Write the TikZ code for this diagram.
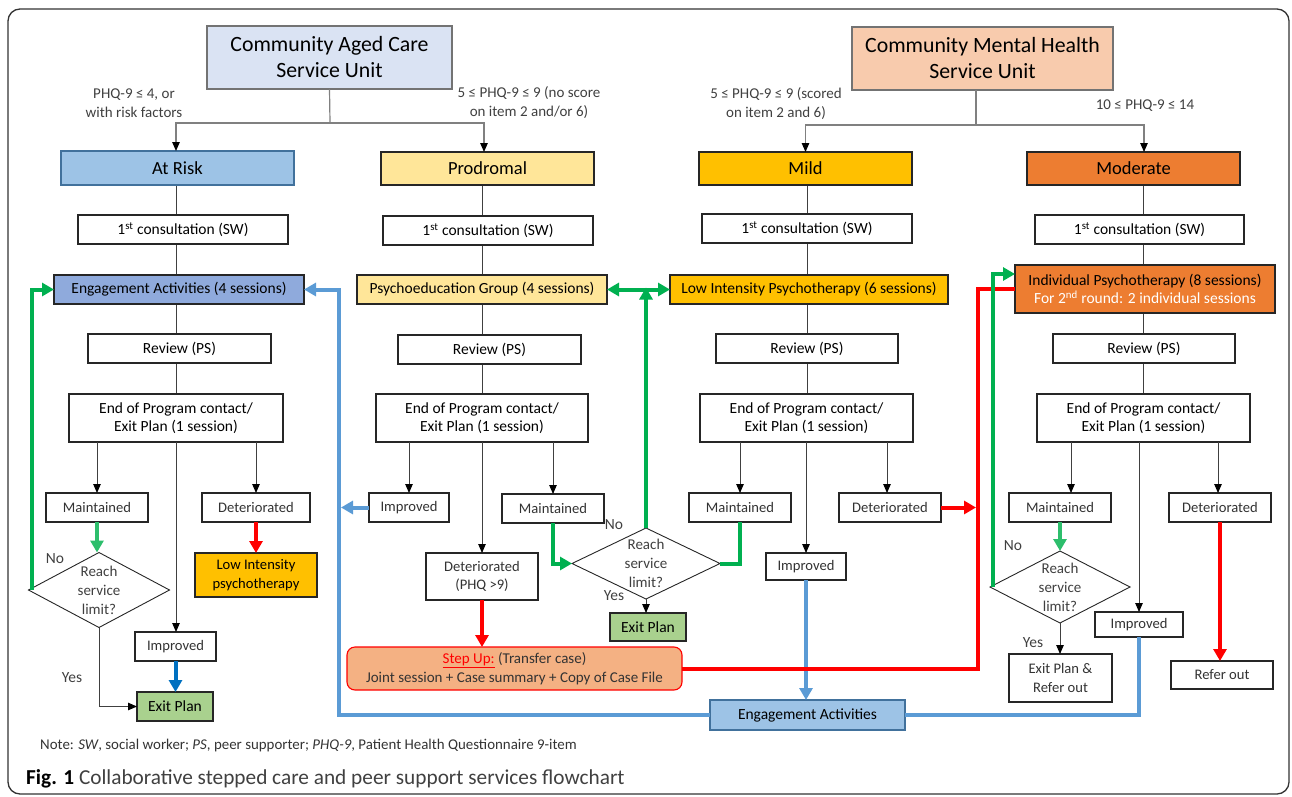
\documentclass[tikz,border=0pt]{standalone}
\usepackage{fontspec}
\setmainfont{Carlito}
\usetikzlibrary{shapes.geometric,arrows.meta,backgrounds}
\definecolor{cHdrA}{HTML}{DAE3F3}
\definecolor{cHdrB}{HTML}{F8CBAD}
\definecolor{cAtRisk}{HTML}{9DC3E6}
\definecolor{cAtRiskB}{HTML}{41719C}
\definecolor{cEngA}{HTML}{8FAADC}
\definecolor{cYel}{HTML}{FFE699}
\definecolor{cOr}{HTML}{FFC000}
\definecolor{cOrD}{HTML}{ED7D31}
\definecolor{cGreenBox}{HTML}{A9D18E}
\definecolor{cStep}{HTML}{F4B183}
\definecolor{cBlue}{HTML}{5B9BD5}
\definecolor{cDBlue}{HTML}{0070C0}
\definecolor{cGreen}{HTML}{00B050}
\definecolor{cGreenL}{HTML}{2DBE6C}
\definecolor{cRed}{HTML}{FF0000}
\newcommand\fsH{\fontsize{21.8}{26}\selectfont}
\newcommand\fsC{\fontsize{18.5}{22}\selectfont}
\newcommand\fsM{\fontsize{15.5}{18.5}\selectfont}
\newcommand\fsL{\fontsize{14.6}{18.5}\selectfont}
\newcommand\fsS{\fontsize{15}{19}\selectfont}
\newcommand\fsY{\fontsize{15.5}{19}\selectfont}
\newcommand\fsN{\fontsize{14.9}{17}\selectfont}
\newcommand\fsF{\fontsize{21.3}{25}\selectfont}
\begin{document}
\begin{tikzpicture}[x=1pt,y=-1pt,
 box/.style={draw=black!85,line width=1.1pt,fill=white,inner sep=0pt,outer sep=0pt,align=center,font=\fsM},
 lbox/.style={box,font=\fsL,text=black!80},
 cat/.style={box,font=\fsC},
 hdr/.style={box,draw=black!55,line width=1.4pt,font=\fsH},
 wh/.style 2 args={minimum width=#1,minimum height=#2},
 dia/.style={diamond,draw=black!85,line width=0.9pt,fill=white,inner sep=0pt,outer sep=0pt,aspect=1.9,align=center,font=\fsS,text=black!75},
 lab/.style={font=\fsS,text=black!75,align=center,inner sep=0pt},
 vline/.style={draw=black!75,line width=1pt},
 hline/.style={draw=black!50,line width=1.2pt},
 ktip/.style={-{Triangle[length=9pt,width=7.5pt,color=black]}},
 gl/.style={draw=cGreen,line width=4pt},
 gll/.style={draw=cGreenL,line width=4pt},
 rl/.style={draw=cRed,line width=4pt},
 bl/.style={draw=cBlue,line width=4pt},
 dbl/.style={draw=cDBlue,line width=4pt},
 btip/.style={-{Triangle[length=12pt,width=13pt]}},
]
\useasboundingbox (0,0) rectangle (1292,797);
\draw[black!80,line width=1.3pt,rounded corners=12] (8,9) rectangle (1289,794);

% headers
\node[hdr,fill=cHdrA,wh={245}{63}] (hdrA) at (329.5,57.5) {Community Aged Care\\Service Unit};
\node[hdr,fill=cHdrB,wh={261}{63}] (hdrB) at (982.5,58.5) {Community Mental Health\\Service Unit};
\node[lab] (labA) at (134,103) {PHQ-9 ≤ 4, or\\with risk factors};
\node[lab] (labB) at (529,103) {5 ≤ PHQ-9 ≤ 9 (no score\\on item 2 and/or 6)};
\node[lab] (labC) at (776,104) {5 ≤ PHQ-9 ≤ 9 (scored\\on item 2 and 6)};
\node[lab] (labD) at (1145,106) {10 ≤ PHQ-9 ≤ 14};

% categories
\node[cat,fill=cAtRisk,draw=cAtRiskB,wh={233}{34}] (atrisk) at (177.5,168) {At Risk};
\node[cat,fill=cYel,wh={213}{33}] (prod) at (487.5,168.5) {Prodromal};
\node[cat,fill=cOr,wh={213}{33}] (mild) at (805.5,168.5) {Mild};
\node[cat,fill=cOrD,wh={213}{33}] (mod) at (1133.5,168.5) {Moderate};

% first consultation
\node[box,wh={210}{29}] (c1A) at (183,229.5) {1\textsuperscript{st} consultation (SW)};
\node[box,wh={210}{29}] (c1B) at (488,230.5) {1\textsuperscript{st} consultation (SW)};
\node[box,wh={210}{29}] (c1C) at (807,228.5) {1\textsuperscript{st} consultation (SW)};
\node[box,wh={209}{29}] (c1D) at (1139.5,229.5) {1\textsuperscript{st} consultation (SW)};

% programmes
\node[box,fill=cEngA,wh={250}{29}] (engA) at (179,289.5) {Engagement Activities (4 sessions)};
\node[box,fill=cYel,wh={250}{29}] (psyB) at (482,289.5) {Psychoeducation Group (4 sessions)};
\node[box,fill=cOr,wh={278}{29}] (lipC) at (809,289.5) {Low Intensity Psychotherapy (6 sessions)};
\node[box,fill=cOrD,wh={260}{48}] (ipD) at (1145,289) {Individual Psychotherapy (8 sessions)\\\textcolor{white}{For 2\textsuperscript{nd} round: 2 individual sessions}};

% reviews
\node[box,wh={183}{29}] (revA) at (179.5,348.5) {Review (PS)};
\node[box,wh={183}{29}] (revB) at (489.5,349.5) {Review (PS)};
\node[box,wh={182}{29}] (revC) at (807,348.5) {Review (PS)};
\node[box,wh={182}{29}] (revD) at (1144,348.5) {Review (PS)};

% end of program
\node[box,wh={214}{48}] (endA) at (176,418) {End of Program contact/\\Exit Plan (1 session)};
\node[box,wh={212}{48}] (endB) at (482,418) {End of Program contact/\\Exit Plan (1 session)};
\node[box,wh={213}{48}] (endC) at (806.5,418) {End of Program contact/\\Exit Plan (1 session)};
\node[box,wh={213}{48}] (endD) at (1143.5,418) {End of Program contact/\\Exit Plan (1 session)};

% outcomes
\node[lbox,wh={102}{29}] (mainA) at (97,507.5) {Maintained};
\node[lbox,wh={108}{29}] (detA) at (256,507.5) {Deteriorated};
\node[lbox,wh={80}{29}] (impB) at (409,507.5) {Improved};
\node[lbox,wh={102}{29}] (mainB) at (553,508.5) {Maintained};
\node[lbox,wh={102}{29}] (mainC) at (740,507.5) {Maintained};
\node[lbox,wh={102}{29}] (detC) at (890,507.5) {Deteriorated};
\node[lbox,wh={102}{29}] (mainD) at (1060,507.5) {Maintained};
\node[lbox,wh={102}{29}] (detD) at (1220,507.5) {Deteriorated};

\node[dia,minimum width=141,minimum height=75] (diaA) at (99,590) {Reach\\service\\limit?};
\node[box,fill=cOr,wh={122}{44},font=\fsL] (lowA) at (256,575) {Low Intensity\\psychotherapy};
\node[lbox,wh={112}{47}] (detB) at (482,576.5) {Deteriorated\\(PHQ >9)};
\node[dia,minimum width=148,minimum height=71] (diaB) at (646,563.5) {Reach\\service\\limit?};
\node[lbox,wh={80}{27}] (impC) at (806,566.5) {Improved};
\node[dia,minimum width=140,minimum height=72] (diaD) at (1060,587) {Reach\\service\\limit?};
\node[box,fill=cGreenBox,wh={76}{28}] (exitB) at (648,627) {Exit Plan};
\node[lbox,wh={88}{25}] (impD) at (1139,624.5) {Improved};
\node[lbox,wh={81}{29}] (impA) at (175.5,646.5) {Improved};
\node[lbox,font=\fsS,draw=cRed,fill=cStep,rounded corners=8,wh={335}{43}] (stepup) at (514.5,668.5) {\textcolor{cRed}{\underline{Step Up:}} (Transfer case)\\Joint session + Case summary + Copy of Case File};
\node[lbox,wh={103}{48}] (exitDR) at (1060.5,678) {Exit Plan \&\\Refer out};
\node[lbox,wh={102}{28}] (referD) at (1222,675) {Refer out};
\node[box,fill=cGreenBox,wh={76}{29}] (exitA) at (175,706.5) {Exit Plan};
\node[box,fill=cAtRisk,draw=cAtRiskB,wh={195}{30}] (engBot) at (807.5,715) {Engagement Activities};

% yes/no labels
\node[lab,font=\fsY] (noA) at (55,559) {No};
\node[lab,font=\fsY] (yesA) at (72,678) {Yes};
\node[lab,font=\fsY] (noB) at (614,525) {No};
\node[lab,font=\fsY] (yesB) at (614,596) {Yes};
\node[lab,font=\fsY] (noD) at (1013,546) {No};
\node[lab,font=\fsY] (yesD) at (1033,643) {Yes};

% column coordinates
\coordinate (colA) at (176,0);
\coordinate (colB) at (482,0);
\coordinate (colC) at (807,0);
\coordinate (colD) at (1143,0);
\coordinate (blx) at (339,0);
\coordinate (rx) at (978,0);
\coordinate (jA) at (330,123);
\coordinate (jB) at (976,125);

\begin{scope}[on background layer]
\draw[vline] (colA |- atrisk.south) -- (colA |- endA.north);
\draw[vline] (colB |- prod.south) -- (colB |- endB.north);
\draw[vline] (colC |- mild.south) -- (colC |- endC.north);
\draw[vline] (colD |- mod.south) -- (colD |- endD.north);
\end{scope}

% header connectors
\draw[hline] (hdrA.south) -- (jA);
\draw[hline,ktip] (jA) -| ([xshift=-1.5]atrisk.north);
\draw[hline,ktip] (jA) -| ([xshift=-3.5]prod.north);
\draw[hline] (hdrB.south -| jB) -- (jB);
\draw[hline,ktip] (jB) -| (mild.north);
\draw[hline,ktip] (jB) -| ([xshift=10.5]mod.north);

% black arrows from end of program
\draw[vline,ktip] (mainA.north |- endA.south) -- (mainA.north);
\draw[vline,ktip] (detA.north |- endA.south) -- (detA.north);
\draw[vline,ktip] (colA |- endA.south) -- (colA |- impA.north);
\draw[vline,ktip] (impB.north |- endB.south) -- (impB.north);
\draw[vline,ktip] (colB |- endB.south) -- (detB.north);
\draw[vline,ktip] (mainB.north |- endB.south) -- (mainB.north);
\draw[vline,ktip] (mainC.north |- endC.south) -- (mainC.north);
\draw[vline,ktip] (impC.north |- endC.south) -- (impC.north);
\draw[vline,ktip] ([xshift=-3]detC.north |- endC.south) -- ([xshift=-3]detC.north);
\draw[vline,ktip] ([xshift=11]mainD.north |- endD.south) -- ([xshift=11]mainD.north);
\draw[vline,ktip] (impD.north |- endD.south) -- (impD.north);
\draw[vline,ktip] ([xshift=-2]detD.north |- endD.south) -- ([xshift=-2]detD.north);
\draw[vline,ktip] (diaA.south) |- (exitA.west);
\draw[vline,ktip] (diaB.south) -- (diaB.south |- exitB.north);
\draw[vline,ktip] (diaD.south) -- (diaD.south |- exitDR.north);

% coloured connectors
\draw[gll,btip] (mainA.south) -- (mainA.south |- diaA.north);
\draw[gl,btip] ([xshift=3]diaA.west) |- (engA.west);
\draw[rl,btip] (detA.south) -- (lowA.north);
\draw[dbl,btip] (impA.south) -- (impA.south |- exitA.north);
\draw[bl,btip] (engBot.west) -| (blx |- engA.east) -- (engA.east);
\draw[bl,btip] (impB.west) -- ([xshift=2]blx |- impB.west);
\draw[bl,btip] (impC.south) -- (impC.south |- engBot.north);
\draw[bl] (impD.south) |- (engBot.east);
\draw[gl,btip] (mainB.south) |- (diaB.west);
\draw[gl] (mainC.south) |- (diaB.east);
\coordinate (jG) at (diaB.north |- psyB.east);
\draw[gl,btip] (diaB.north) -- ([yshift=2]jG);
\draw[gl,{Triangle[length=12pt,width=13pt]}-{Triangle[length=12pt,width=13pt]}] (psyB.east) -- (lipC.west);
\draw[rl] (stepup.east) -| (rx |- ipD.west) -- (ipD.west);
\draw[rl,btip] (detB.south) -- (detB.south |- stepup.north);
\draw[rl,btip] (detC.east) -- ([xshift=-2]rx |- detC.east);
\draw[gl,btip] ([xshift=3]diaD.west) |- ([yshift=15]ipD.west);
\draw[gll,btip] (mainD.south) -- (mainD.south |- diaD.north);
\draw[rl,btip] (detD.south) -- (detD.south |- referD.north);

% note and caption
\node[anchor=west,font=\fsN,text=black!80,inner sep=0pt] (note) at (40,746) {Note: \textit{SW}, social worker; \textit{PS}, peer supporter; \textit{PHQ-9}, Patient Health Questionnaire 9-item};
\node[anchor=west,font=\fsF,text=black!75,inner sep=0pt] (cap) at (26,779) {\textcolor{black}{\textbf{Fig. 1}} Collaborative stepped care and peer support services flowchart};
\end{tikzpicture}
\end{document}
